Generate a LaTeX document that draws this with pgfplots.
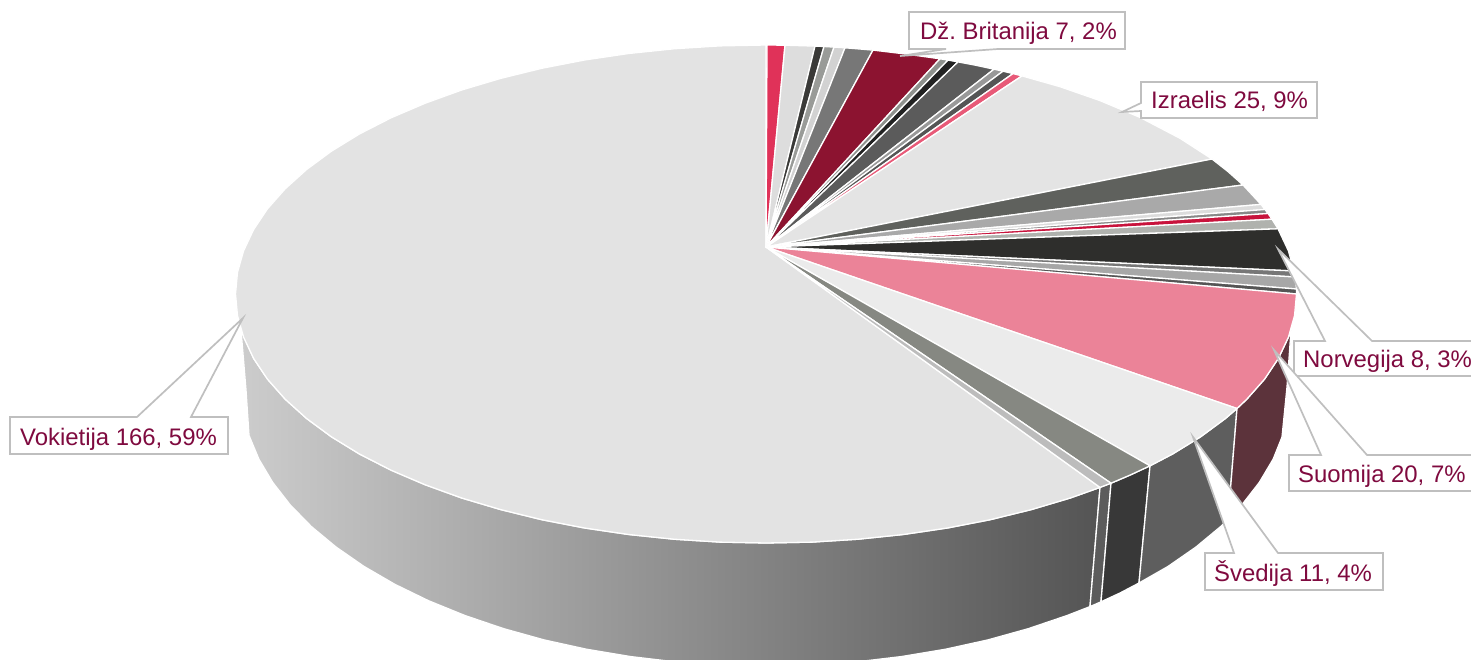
\documentclass[border=0pt]{standalone}
\usepackage{pgfplots}
\pgfplotsset{compat=1.18}
\usepackage{fontspec}
\setmainfont{Liberation Sans}
\frenchspacing
\definecolor{lab}{HTML}{7F0A3F}
\definecolor{box}{HTML}{BFBFBF}
\definecolor{sA}{HTML}{5C333B}
\definecolor{sB}{HTML}{5C5C5C}
\definecolor{sC}{HTML}{383838}
\definecolor{sD}{HTML}{5E5E5E}
\definecolor{cVok}{HTML}{E3E3E3}
\definecolor{c01}{HTML}{E03259}
\definecolor{c02}{HTML}{DDDDDD}
\definecolor{c03}{HTML}{3A3A38}
\definecolor{c04}{HTML}{999B98}
\definecolor{c05}{HTML}{D2D2D2}
\definecolor{c06}{HTML}{777777}
\definecolor{c07}{HTML}{8C1330}
\definecolor{c08}{HTML}{8F928E}
\definecolor{c09}{HTML}{222222}
\definecolor{c10}{HTML}{5B5B5B}
\definecolor{c11}{HTML}{999999}
\definecolor{c12}{HTML}{555555}
\definecolor{c13}{HTML}{E85A78}
\definecolor{c14}{HTML}{E4E4E4}
\definecolor{c15}{HTML}{5F615D}
\definecolor{c16}{HTML}{A9A9A9}
\definecolor{c17}{HTML}{DCDCDC}
\definecolor{c18}{HTML}{888888}
\definecolor{c19}{HTML}{C8133C}
\definecolor{c20}{HTML}{B0B2AE}
\definecolor{c21}{HTML}{2E2E2C}
\definecolor{c22}{HTML}{777777}
\definecolor{c23}{HTML}{A7A7A7}
\definecolor{c24}{HTML}{555555}
\definecolor{c25}{HTML}{EB8398}
\definecolor{c26}{HTML}{EBEBEB}
\definecolor{c27}{HTML}{868882}
\definecolor{c28}{HTML}{BCBCBC}
\pgfplotsset{
  wedge/.style={fill=#1,draw=white,line width=1.3pt,line join=round,mark=none},
  call/.style={fill=white,draw=box,line width=1.7pt,line join=miter,mark=none}
}
\newcommand{\lbl}[3]{\node[anchor=base west,inner sep=0pt,text=lab,font=\fontsize{23.9}{28}\selectfont] at (axis cs:#1,#2) {#3};}
\begin{document}
\begin{tikzpicture}
\useasboundingbox (0,0) rectangle (1471pt,660pt);
\begin{axis}[scale only axis,width=1471pt,height=660pt,xmin=0,xmax=1471,ymin=0,ymax=660,y dir=reverse,axis lines=none,clip=true,anchor=south west,at={(0,0)}]
% --- side of the pie
\addplot[draw=white,line width=1.3pt,mark=none,left color=black!20,right color=black!67] coordinates {
(241,330)(253.6,358.4)(267.5,379.2)(285.2,399.2)(306.6,418.5)(331.4,436.8)(359.6,454.1)(390.9,470.1)(425,484.7)(461.7,498)(500.7,509.6)(541.8,519.7)(584.6,528)(628.7,534.5)(673.9,539.2)(719.8,542.1)(766,543)(812.2,542.1)(858.1,539.2)(903.3,534.5)(947.4,528)(990.2,519.7)(1031.3,509.6)(1070.3,498)(1100,487.4)
(1090,606.6)(1067.1,615.5)(1028.5,628.6)(987.9,639.9)(945.6,649.2)(901.9,656.5)(857.2,661.8)(811.8,664.9)(766,666)(720.2,664.9)(674.8,661.8)(630.1,656.5)(586.4,649.2)(544.1,639.9)(503.5,628.6)(464.9,615.5)(428.5,600.7)(394.8,584.3)(363.8,566.3)(336,547)(311.3,526.5)(290.2,504.9)(272.7,482.4)(258.9,459.2)(249,435.4)(246,390)
} --cycle;
\addplot[wedge=sB] coordinates {(1100,487.4)(1111,483.2)(1101,601.8)(1090,606.6)} --cycle;
\addplot[wedge=sC] coordinates {(1111,483.2)(1130,475.1)(1150,465.8)(1139,583)(1120,593)(1101,601.8)} --cycle;
\addplot[wedge=sD] coordinates {(1150,465.8)(1172.4,454.1)(1200.6,436.8)(1225.4,418.5)(1237,408.5)(1228,519.5)(1220.7,526.5)(1196,547)(1168.2,566.3)(1139,583)} --cycle;
\addplot[wedge=sA] coordinates {(1237,408.5)(1246.8,399.2)(1264.5,379.2)(1278.4,358.4)(1288.4,337.2)(1291,330)(1287,387)(1282,437)(1273.1,459.2)(1259.3,482.4)(1241.8,504.9)(1228,519.5)} --cycle;
% --- top of the pie
\addplot[wedge=cVok] coordinates {(766,247)(1100,487.4)(1070.3,498)(1031.3,509.6)(990.2,519.7)(947.4,528)(903.3,534.5)(858.1,539.2)(812.2,542.1)(766,543)(719.8,542.1)(673.9,539.2)(628.7,534.5)(584.6,528)(541.8,519.7)(500.7,509.6)(461.7,498)(425,484.7)(390.9,470.1)(359.6,454.1)(331.4,436.8)(306.6,418.5)(285.2,399.2)(267.5,379.2)(253.6,358.4)(243.6,337.2)(237.5,315.7)(235.5,294)(237.5,272.3)(243.6,250.8)(253.6,229.6)(267.5,208.8)(285.2,188.8)(306.6,169.5)(331.4,151.2)(359.6,133.9)(390.9,117.9)(425,103.3)(461.7,90)(500.7,78.4)(541.8,68.3)(584.6,60)(628.7,53.5)(673.9,48.8)(719.8,45.9)(766,45)} --cycle;
\addplot[wedge=c01] coordinates {(766,247)(767,45)(785,45.2)} --cycle;
\addplot[wedge=c02] coordinates {(766,247)(785,45.2)(815,46.1)} --cycle;
\addplot[wedge=c03] coordinates {(766,247)(815,46.1)(824,46.5)} --cycle;
\addplot[wedge=c04] coordinates {(766,247)(824,46.5)(834,47.1)} --cycle;
\addplot[wedge=c05] coordinates {(766,247)(834,47.1)(845,47.8)} --cycle;
\addplot[wedge=c06] coordinates {(766,247)(845,47.8)(873,50.1)} --cycle;
\addplot[wedge=c07] coordinates {(766,247)(873,50.1)(907,54.2)(940,58.8)} --cycle;
\addplot[wedge=c08] coordinates {(766,247)(940,58.8)(948,60.1)} --cycle;
\addplot[wedge=c09] coordinates {(766,247)(948,60.1)(958,61.9)} --cycle;
\addplot[wedge=c10] coordinates {(766,247)(958,61.9)(976,65.3)(994,69.2)} --cycle;
\addplot[wedge=c11] coordinates {(766,247)(994,69.2)(1003,71.2)} --cycle;
\addplot[wedge=c12] coordinates {(766,247)(1003,71.2)(1013,73.6)} --cycle;
\addplot[wedge=c13] coordinates {(766,247)(1013,73.6)(1022,75.9)} --cycle;
\addplot[wedge=c14] coordinates {(766,247)(1022,75.9)(1060,86.7)(1100,100.6)(1140,117.4)(1180,138.3)(1212,159)} --cycle;
\addplot[wedge=c15] coordinates {(766,247)(1212,159)(1228,171.6)(1243,185)} --cycle;
\addplot[wedge=c16] coordinates {(766,247)(1243,185)(1261,204.4)} --cycle;
\addplot[wedge=c17] coordinates {(766,247)(1261,204.4)(1265,209.5)} --cycle;
\addplot[wedge=c18] coordinates {(766,247)(1265,209.5)(1268,213.5)} --cycle;
\addplot[wedge=c19] coordinates {(766,247)(1268,213.5)(1272,219.2)} --cycle;
\addplot[wedge=c20] coordinates {(766,247)(1272,219.2)(1278,228.8)} --cycle;
\addplot[wedge=c21] coordinates {(766,247)(1278,228.8)(1288.4,250.8)(1294,271)} --cycle;
\addplot[wedge=c22] coordinates {(766,247)(1294,271)(1295.3,277)} --cycle;
\addplot[wedge=c23] coordinates {(766,247)(1295.3,277)(1296.4,289)} --cycle;
\addplot[wedge=c24] coordinates {(766,247)(1296.4,289)(1296.5,294)} --cycle;
\addplot[wedge=c25] coordinates {(766,247)(1296.5,294)(1294.5,315.7)(1288.4,337.2)(1278.4,358.4)(1264.5,379.2)(1246.8,399.2)(1237,408.5)} --cycle;
\addplot[wedge=c26] coordinates {(766,247)(1237,408.5)(1225.4,418.5)(1200.6,436.8)(1172.4,454.1)(1150,465.8)} --cycle;
\addplot[wedge=c27] coordinates {(766,247)(1150,465.8)(1130,475.1)(1111,483.2)} --cycle;
\addplot[wedge=c28] coordinates {(766,247)(1111,483.2)(1100,487.4)} --cycle;
% --- callouts
\addplot[call] coordinates {(243,318)(137,417)(10,417)(10,454)(228,454)(228,417)(191,417)} --cycle;
\addplot[call] coordinates {(900,56)(946,49)(909,49)(909,12)(1125,12)(1125,49)(998,49)} --cycle;
\addplot[call] coordinates {(1122,112)(1141,103)(1141,82)(1317,82)(1317,118)(1141,118)(1141,111)} --cycle;
\addplot[call] coordinates {(1278,249)(1372,341)(1480,341)(1480,376)(1294,376)(1294,341)(1325,341)} --cycle;
\addplot[call] coordinates {(1274,350)(1367,455)(1480,455)(1480,491)(1289,491)(1289,455)(1321,455)} --cycle;
\addplot[call] coordinates {(1193,437)(1278,553)(1383,553)(1383,590)(1205,590)(1205,553)(1234,553)} --cycle;
% --- labels
\lbl{20}{445}{Vokietija 166, 59\%}
\lbl{920}{40}{Dž. Britanija 7, 2\%}
\lbl{1151}{109}{Izraelis 25, 9\%}
\lbl{1303}{367}{Norvegija 8, 3\%}
\lbl{1298}{482}{Suomija 20, 7\%}
\lbl{1214}{581}{Švedija 11, 4\%}
\end{axis}
\end{tikzpicture}
\end{document}
